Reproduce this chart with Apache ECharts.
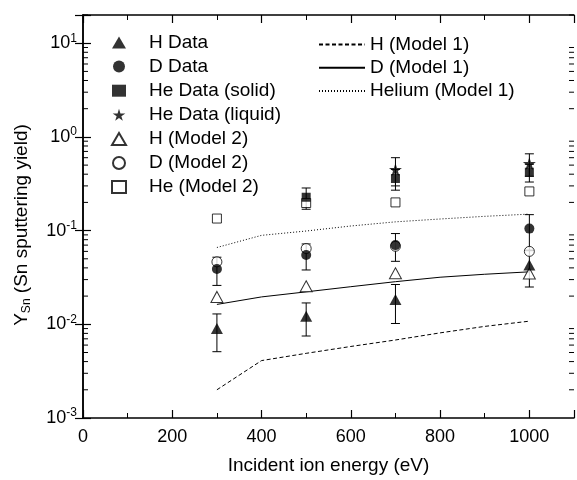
<!DOCTYPE html>
<html>
<head>
<meta charset="utf-8">
<script src="https://cdn.jsdelivr.net/npm/echarts@6/dist/echarts.min.js"></script>
<style>
html,body{margin:0;padding:0;background:#fff;}
#chart{width:577px;height:480px;}
</style>
</head>
<body>
<div id="chart"></div>
<script>
// ---- data ----
const energies = [300, 500, 700, 1000];
const hData = [0.009, 0.0122, 0.0184, 0.043];
const hErr = [0.0039, 0.0047, 0.0082, 0.018];
const dData = [0.039, 0.055, 0.070, 0.105];
const dErr = [0.013, 0.017, 0.023, 0.043];
const heSolid = [null, 0.227, 0.36, 0.42];
const heSolidErr = [null, 0.058, 0.09, 0.09];
const heLiquid = [null, null, 0.45, 0.52];
const heLiquidErr = [null, null, 0.15, 0.14];
const hModel2 = [0.0196, 0.0255, 0.035, 0.0349];
const dModel2 = [0.0464, 0.0644, 0.068, 0.060];
const heModel2 = [0.1345, 0.197, 0.2, 0.262];

const model1Energy = [300, 400, 500, 600, 700, 800, 900, 1000];
const hModel1 = [0.002, 0.0041, 0.0049, 0.0058, 0.0068, 0.0081, 0.0095, 0.0108];
const dModel1 = [0.0163, 0.0196, 0.0222, 0.0252, 0.0285, 0.0318, 0.0342, 0.0363];
const heModel1 = [0.066, 0.089, 0.099, 0.112, 0.124, 0.133, 0.142, 0.150];

const xTickLabels = ['0', '200', '400', '600', '800', '1000'];
const yDecades = [-3, -2, -1, 0, 1];

// ---- helpers ----
const FONT = "'Liberation Sans', Arial, sans-serif";
const STAR = 'path://M50,0 L61,35 L98,35 L68,57 L79,91 L50,70 L21,91 L32,57 L2,35 L39,35 Z';
const FS = 19;     // legend / titles
const TFS = 18;    // tick labels

function pts(xs, ys) {
  const out = [];
  xs.forEach((x, i) => { if (ys[i] != null) out.push([x, ys[i]]); });
  return out;
}
function errPts(xs, ys, es) {
  const out = [];
  xs.forEach((x, i) => { if (ys[i] != null) out.push([x, ys[i] - es[i], ys[i] + es[i]]); });
  return out;
}
function errRender(params, api) {
  const x = api.value(0), lo = api.value(1), hi = api.value(2);
  const a = api.coord([x, hi]);
  const b = api.coord([x, lo]);
  const w = 4.5;
  const st = { stroke: '#000', lineWidth: 1 };
  return {
    type: 'group',
    children: [
      { type: 'line', shape: { x1: a[0], y1: a[1], x2: b[0], y2: b[1] }, style: st },
      { type: 'line', shape: { x1: a[0] - w, y1: a[1], x2: a[0] + w, y2: a[1] }, style: st },
      { type: 'line', shape: { x1: b[0] - w, y1: b[1], x2: b[0] + w, y2: b[1] }, style: st }
    ]
  };
}
function errSeries(name, data) {
  return {
    name: name, type: 'custom', renderItem: errRender, data: data,
    encode: { x: 0, y: [1, 2] }, silent: true, z: 1
  };
}

// minor ticks for log axis (axis decoration, values 2..9 x 10^k)
const minorVals = [];
for (let k = -3; k <= 0; k++) for (let m = 2; m <= 9; m++) minorVals.push([0, m * Math.pow(10, k)]);
minorVals.push([0, 20]);

function minorRender(params, api) {
  const cs = params.coordSys;
  const p = api.coord([0, api.value(1)]);
  const len = 5;
  const st = { stroke: '#000', lineWidth: 1 };
  return {
    type: 'group',
    children: [
      { type: 'line', shape: { x1: cs.x, y1: p[1], x2: cs.x + len, y2: p[1] }, style: st },
      { type: 'line', shape: { x1: cs.x + cs.width - len, y1: p[1], x2: cs.x + cs.width, y2: p[1] }, style: st }
    ]
  };
}

const openStyle = { color: '#fff', borderColor: '#000', borderWidth: 1 };
const fillStyle = { color: '#000', borderColor: '#000', borderWidth: 0 };

const axisLineStyle = { color: '#000', width: 1.5 };

const chart = echarts.init(document.getElementById('chart'), null, { renderer: 'canvas' });

const option = {
  backgroundColor: '#fff',
  animation: false,
  textStyle: { fontFamily: FONT },
  grid: { left: 83, right: 1, top: 15, bottom: 62, containLabel: false },
  legend: [
    {
      data: ['H Data', 'D Data', 'He Data (solid)', 'He Data (liquid)', 'H (Model 2)', 'D (Model 2)', 'He (Model 2)'],
      orient: 'vertical', left: 111, top: 33, padding: 0,
      itemWidth: 14, itemHeight: 12, itemGap: 5.1,
      selectedMode: false,
      textStyle: { fontFamily: FONT, fontSize: FS, color: '#000', lineHeight: 16, padding: [0, 0, 0, 18] }
    },
    {
      data: ['H (Model 1)', 'D (Model 1)', 'Helium (Model 1)'],
      orient: 'vertical', left: 318, top: 35, padding: 0,
      itemWidth: 46, itemHeight: 12, itemGap: 4.2,
      selectedMode: false,
      itemStyle: { opacity: 0 },
      textStyle: { fontFamily: FONT, fontSize: FS, color: '#000', lineHeight: 16 }
    }
  ],
  xAxis: [
    {
      type: 'value', min: 0, max: 1100, interval: 200, position: 'bottom',
      name: 'Incident ion energy (eV)', nameLocation: 'middle', nameGap: 38,
      nameTextStyle: { fontFamily: FONT, fontSize: FS, color: '#000' },
      axisLine: { show: true, lineStyle: axisLineStyle },
      axisTick: { show: true, inside: true, length: 8, lineStyle: { color: '#000', width: 1.2 } },
      minorTick: { show: true, splitNumber: 2, length: 5, lineStyle: { color: '#000', width: 1 } },
      axisLabel: {
        fontFamily: FONT, fontSize: TFS, color: '#000', margin: 10,
        formatter: function (v) { return v <= 1000 ? xTickLabels[v / 200] : ''; }
      },
      splitLine: { show: false }
    },
    {
      type: 'value', min: 0, max: 1100, interval: 200, position: 'top',
      axisLine: { show: true, lineStyle: axisLineStyle },
      axisTick: { show: true, inside: true, length: 8, lineStyle: { color: '#000', width: 1.2 } },
      minorTick: { show: true, splitNumber: 2, length: 5, lineStyle: { color: '#000', width: 1 } },
      axisLabel: { show: false },
      splitLine: { show: false }
    }
  ],
  yAxis: [
    {
      type: 'log', logBase: 10, min: 0.001, max: 20, position: 'left',
      name: '{y|Y}{sub|Sn}{n| (Sn sputtering yield)}',
      nameLocation: 'middle', nameGap: 50, nameRotate: 90,
      nameTextStyle: {
        padding: [0, 17, 0, 0],
        rich: {
          y: { fontFamily: FONT, fontSize: FS, color: '#000', lineHeight: 22 },
          sub: { fontFamily: FONT, fontSize: 12, color: '#000', verticalAlign: 'bottom', lineHeight: 16 },
          n: { fontFamily: FONT, fontSize: FS, color: '#000', lineHeight: 22 }
        }
      },
      axisLine: { show: true, lineStyle: axisLineStyle },
      axisTick: { show: true, inside: true, length: 8, lineStyle: { color: '#000', width: 1.2 } },
      axisLabel: {
        margin: 6,
        formatter: function (v) {
          const e = Math.log10(v);
          const r = Math.round(e);
          if (Math.abs(e - r) > 1e-6 || yDecades.indexOf(r) < 0) return '';
          return '{b|10}{s|' + r + '}';
        },
        rich: {
          b: { fontFamily: FONT, fontSize: TFS, color: '#000', lineHeight: 22 },
          s: { fontFamily: FONT, fontSize: 12, color: '#000', verticalAlign: 'top', lineHeight: 12 }
        }
      },
      splitLine: { show: false }
    },
    {
      type: 'log', logBase: 10, min: 0.001, max: 20, position: 'right',
      axisLine: { show: true, lineStyle: axisLineStyle },
      axisTick: { show: true, inside: true, length: 8, lineStyle: { color: '#000', width: 1.2 } },
      axisLabel: { show: false },
      splitLine: { show: false }
    }
  ],
  series: [
    { name: 'minorTicks', type: 'custom', renderItem: minorRender, data: minorVals, encode: { x: 0, y: 1 }, silent: true, z: 1 },
    { name: 'H (Model 1)', type: 'line', data: pts(model1Energy, hModel1), symbol: 'none',
      lineStyle: { color: '#000', width: 1, type: [4, 2.5] }, itemStyle: { color: '#000' }, z: 2 },
    { name: 'D (Model 1)', type: 'line', data: pts(model1Energy, dModel1), symbol: 'none',
      lineStyle: { color: '#000', width: 1, type: 'solid' }, itemStyle: { color: '#000' }, z: 2 },
    { name: 'Helium (Model 1)', type: 'line', data: pts(model1Energy, heModel1), symbol: 'none',
      lineStyle: { color: '#000', width: 1, type: [1, 2] }, itemStyle: { color: '#000' }, z: 2 },
    errSeries('errH', errPts(energies, hData, hErr)),
    errSeries('errD', errPts(energies, dData, dErr)),
    errSeries('errHeS', errPts(energies, heSolid, heSolidErr)),
    errSeries('errHeL', errPts(energies, heLiquid, heLiquidErr)),
    { name: 'H (Model 2)', type: 'scatter', data: pts(energies, hModel2), symbol: 'triangle', symbolSize: [12, 11], itemStyle: openStyle, z: 3 },
    { name: 'D (Model 2)', type: 'scatter', data: pts(energies, dModel2), symbol: 'circle', symbolSize: 10, itemStyle: openStyle, z: 3 },
    { name: 'He (Model 2)', type: 'scatter', data: pts(energies, heModel2), symbol: 'rect', symbolSize: 9, itemStyle: openStyle, z: 3 },
    { name: 'H Data', type: 'scatter', data: pts(energies, hData), symbol: 'triangle', symbolSize: [12, 11], itemStyle: fillStyle, z: 4 },
    { name: 'D Data', type: 'scatter', data: pts(energies, dData), symbol: 'circle', symbolSize: 10, itemStyle: fillStyle, z: 4 },
    { name: 'He Data (solid)', type: 'scatter', data: pts(energies, heSolid), symbol: 'rect', symbolSize: 9, itemStyle: fillStyle, z: 4 },
    { name: 'He Data (liquid)', type: 'scatter', data: pts(energies, heLiquid), symbol: STAR, symbolSize: 13, itemStyle: fillStyle, z: 4 }
  ]
};
chart.setOption(option);
</script>
</body>
</html>
